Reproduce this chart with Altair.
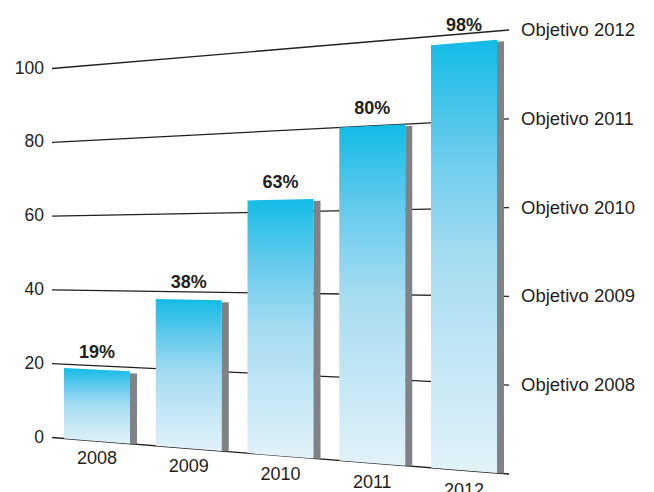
import altair as alt
import pandas as pd

# ---- data ----
years = ["2008", "2009", "2010", "2011", "2012"]
values = [19, 38, 63, 80, 98]
pct_labels = ["19%", "38%", "63%", "80%", "98%"]
tick_values = [0, 20, 40, 60, 80, 100]
tick_labels = ["0", "20", "40", "60", "80", "100"]
target_labels = ["Objetivo 2008", "Objetivo 2009", "Objetivo 2010", "Objetivo 2011", "Objetivo 2012"]
target_values = [20, 40, 60, 80, 100]

# ---- perspective geometry (layout, not data) ----
W, H = 654, 492
GX0, GX1 = 52.0, 509.0          # extent of the gridlines
B0, B1 = 437.5, 474.0           # baseline height at left / right
S0, S1 = 3.69, 4.44             # pixels per unit at left / right
BAR0, STEP, BW, SW = 64.0, 91.75, 66.0, 7.0
INK = "#231f20"
FONT = "Liberation Sans"


def proj(x, v):
    u = (x - GX0) / (GX1 - GX0)
    return B0 + u * (B1 - B0) - (S0 + u * (S1 - S0)) * v


bar_rows, shadow_rows, pct_rows, year_rows = [], [], [], []
for i, (yr, v, pl) in enumerate(zip(years, values, pct_labels)):
    left = BAR0 + i * STEP
    right = left + BW
    for x in (left, right):
        bar_rows.append({"year": yr, "x": x, "top": proj(x, v), "bot": proj(x, 0)})
    for x in (right, right + SW):
        shadow_rows.append({"year": yr, "x": x, "top": proj(x, v) + 2, "bot": proj(x, 0)})
    cx = (left + right) / 2
    pct_rows.append({"label": pl, "x": cx, "y": proj(cx, v) - 17})
    year_rows.append({"label": yr, "x": cx, "y": proj(cx, -4.7)})

grid_rows = [{"v": t, "x": GX0, "x2": GX1, "y": proj(GX0, t), "y2": proj(GX1, t)} for t in tick_values]
tick_rows = [{"label": l, "x": GX0 - 8, "y": proj(GX0, t)} for l, t in zip(tick_labels, tick_values)]
target_rows = [{"label": l, "x": GX1 + 12, "y": proj(GX1, t)} for l, t in zip(target_labels, target_values)]

xs = alt.Scale(domain=[0, W], nice=False, zero=False)
ys = alt.Scale(domain=[0, H], reverse=True, nice=False, zero=False)


def X(f="x"):
    return alt.X(f"{f}:Q", scale=xs, axis=None)


def Y(f="y"):
    return alt.Y(f"{f}:Q", scale=ys, axis=None)


grid = alt.Chart(pd.DataFrame(grid_rows)).mark_rule(color=INK, strokeWidth=1.3).encode(
    x=X(), x2="x2:Q", y=Y(), y2="y2:Q"
)

gradient = alt.Gradient(
    gradient="linear",
    stops=[
        alt.GradientStop(color="#12bbe5", offset=0),
        alt.GradientStop(color="#66cbed", offset=0.25),
        alt.GradientStop(color="#a6dcf1", offset=0.5),
        alt.GradientStop(color="#e2f2f9", offset=1),
    ],
    x1=0, x2=0, y1=0, y2=1,
)

bars = alt.Chart(pd.DataFrame(bar_rows)).mark_area(fill=gradient, opacity=1, strokeWidth=0).encode(
    x=X(), y=Y("top"), y2="bot:Q", detail="year:N"
)

shadows = alt.Chart(pd.DataFrame(shadow_rows)).mark_area(color="#808285", opacity=1).encode(
    x=X(), y=Y("top"), y2="bot:Q", detail="year:N"
)

pct = alt.Chart(pd.DataFrame(pct_rows)).mark_text(
    font=FONT, fontSize=18, fontWeight="bold", color=INK, align="center", baseline="middle"
).encode(x=X(), y=Y(), text="label:N")

yrs = alt.Chart(pd.DataFrame(year_rows)).mark_text(
    font=FONT, fontSize=18, color=INK, align="center", baseline="middle"
).encode(x=X(), y=Y(), text="label:N")

ticks = alt.Chart(pd.DataFrame(tick_rows)).mark_text(
    font=FONT, fontSize=17.5, color=INK, align="right", baseline="middle"
).encode(x=X(), y=Y(), text="label:N")

targets = alt.Chart(pd.DataFrame(target_rows)).mark_text(
    font=FONT, fontSize=18.5, color=INK, align="left", baseline="middle"
).encode(x=X(), y=Y(), text="label:N")

chart = (
    alt.layer(grid, bars, shadows, pct, yrs, ticks, targets)
    .properties(width=W, height=H, autosize=alt.AutoSizeParams(type="none"), padding=0, background="white")
    .configure_view(stroke=None)
)

chart.save("out.html", embed_options={"renderer": "svg", "actions": False})
